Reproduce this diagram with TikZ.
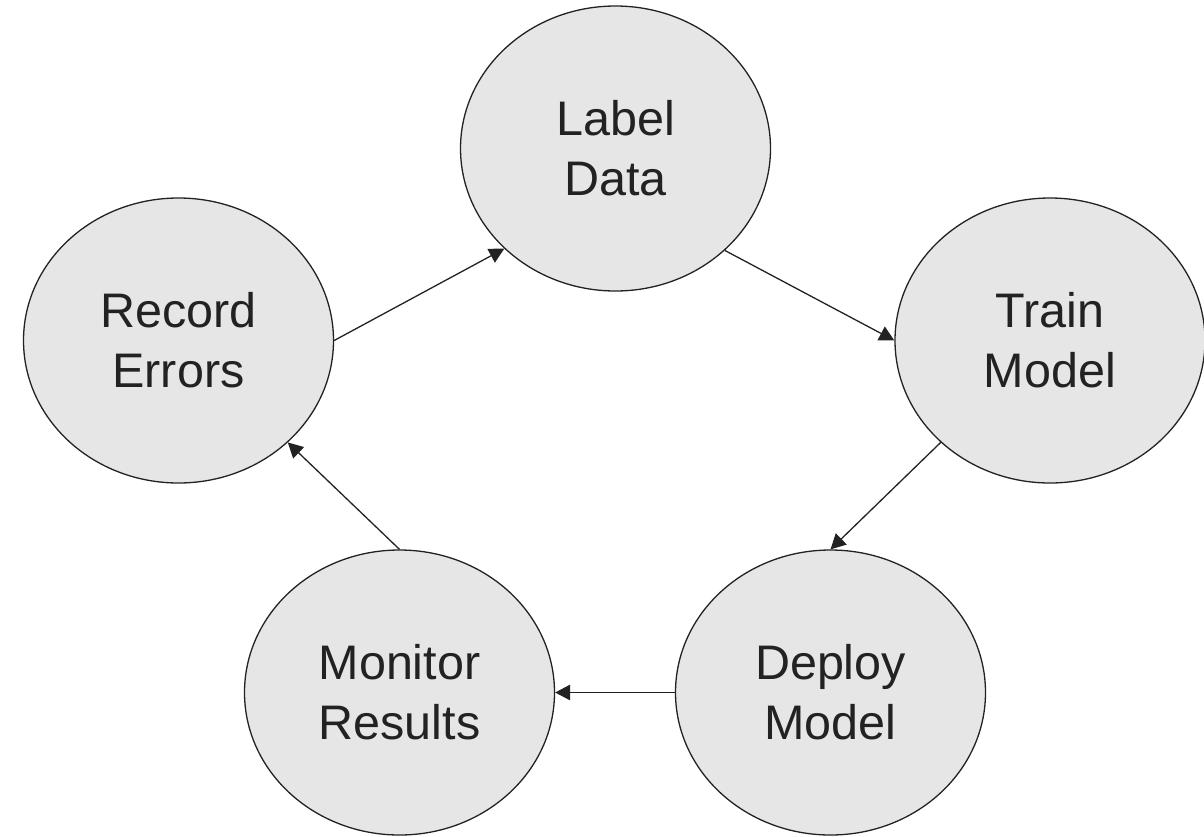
\documentclass[tikz,border=0pt]{standalone}
\usepackage{fontspec}
\setmainfont{Liberation Sans}
\usetikzlibrary{shapes.geometric,arrows.meta}
\definecolor{nodefill}{HTML}{E6E6E6}
\definecolor{ink}{HTML}{222222}
\tikzset{
  stage/.style={ellipse, draw=ink, line width=1.3pt, fill=nodefill, text=ink,
    minimum width=310pt, minimum height=285pt, inner sep=0pt, align=center,
    font=\fontsize{48.5}{60}\selectfont},
  conn/.style={draw=ink, line width=1.3pt, -{Triangle[length=15pt,width=15.5pt]}}
}
\begin{document}
\begin{tikzpicture}[x=1pt,y=-1pt]
\useasboundingbox (0,0) rectangle (1204,836);
\node[stage] (ld) at (615.5,148.5) {Label\\Data};
\node[stage] (re) at (178.5,340.5) {Record\\Errors};
\node[stage] (tm) at (1050,340.5) {Train\\Model};
\node[stage] (mr) at (399.5,692.5) {Monitor\\Results};
\node[stage] (dm) at (830.5,692.5) {Deploy\\Model};
\draw[conn] (re.east) -- (ld.222);
\draw[conn] (ld.317) -- (tm.west);
\draw[conn] (tm.223) -- (dm.north);
\draw[conn] (dm.west) -- (mr.east);
\draw[conn] (mr.north) -- (re.317);
\end{tikzpicture}
\end{document}
